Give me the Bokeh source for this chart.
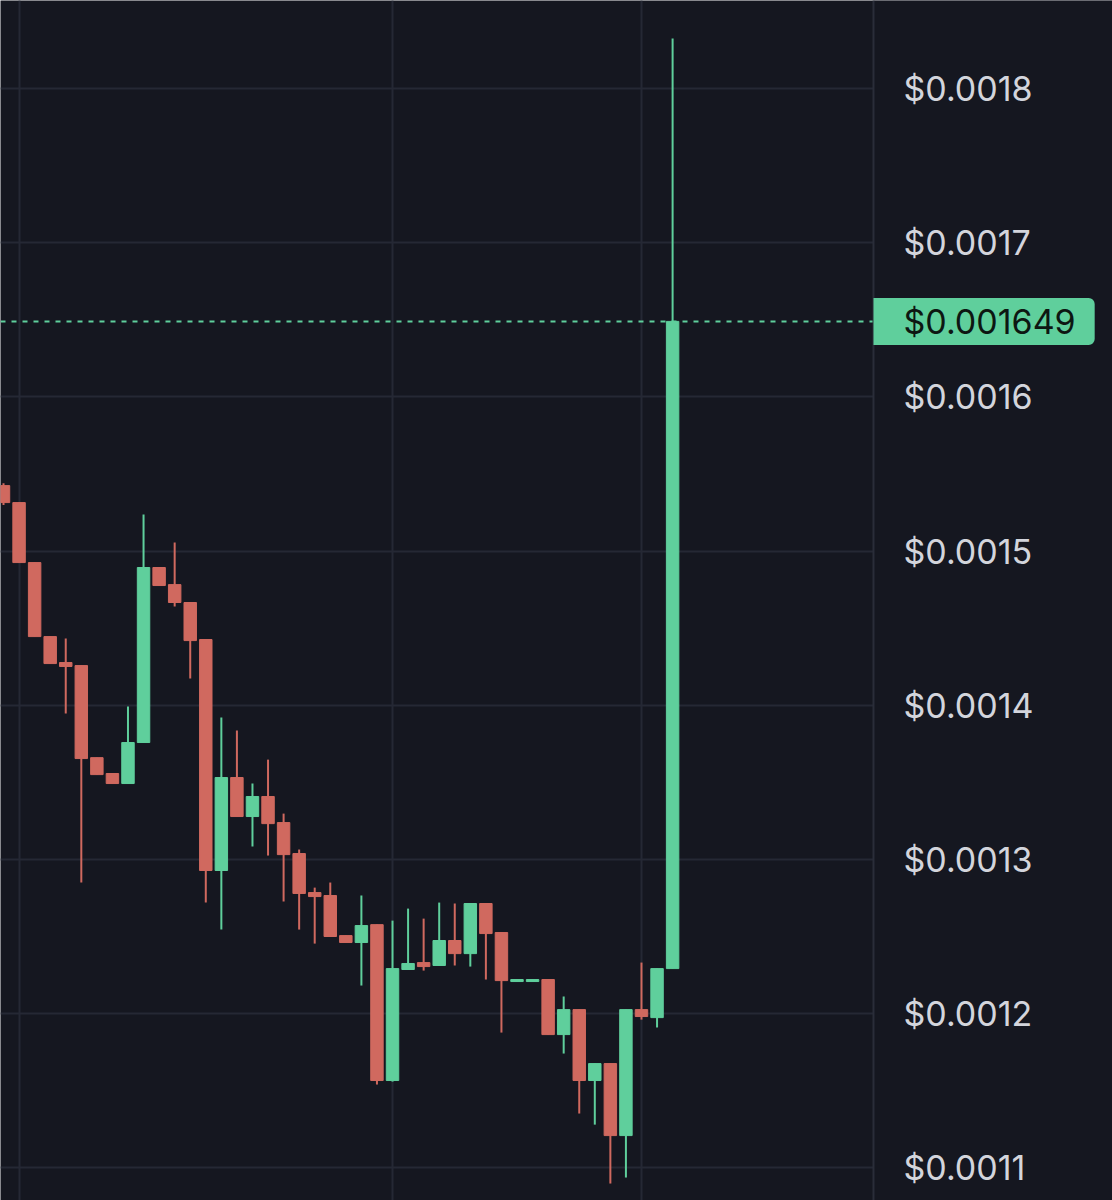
from bokeh.plotting import figure
from bokeh.models import (ColumnDataSource, Span, Label, FixedTicker, NumeralTickFormatter,
                          Range1d, BoxAnnotation)
from bokeh.embed import file_html
from bokeh.resources import INLINE

# OHLC prices (USD), one candle per period
opens = [0.0015425, 0.0015315, 0.0014926, 0.0014446, 0.0014278, 0.0014258, 0.0013661, 0.0013558,
         0.0013493, 0.0013759, 0.0014894, 0.0014783, 0.0014667, 0.0014427, 0.0012929, 0.0013532,
         0.0013279, 0.0013409, 0.0013240, 0.0013039, 0.0012786, 0.0012767, 0.0012507, 0.0012462,
         0.0012578, 0.0011567, 0.0012287, 0.0012332, 0.0012313, 0.0012475, 0.0012390, 0.0012715,
         0.0012527, 0.0012209, 0.0012209, 0.0012222, 0.0011865, 0.0012027, 0.0011567, 0.0011677,
         0.0011210, 0.0012027, 0.0011975, 0.0012293]
highs = [0.0015440, 0.0015315, 0.0014926, 0.0014446, 0.0014433, 0.0014258, 0.0013661, 0.0013558,
         0.0013992, 0.0015237, 0.0014894, 0.0015056, 0.0014667, 0.0014427, 0.0013921, 0.0013837,
         0.0013493, 0.0013648, 0.0013298, 0.0013065, 0.0012818, 0.0012851, 0.0012507, 0.0012767,
         0.0012578, 0.0012604, 0.0012682, 0.0012617, 0.0012721, 0.0012715, 0.0012715, 0.0012715,
         0.0012527, 0.0012222, 0.0012222, 0.0012222, 0.0012112, 0.0012027, 0.0011677, 0.0011677,
         0.0012027, 0.0012332, 0.0012293, 0.0018324]
lows = [0.0015300, 0.0014926, 0.0014446, 0.0014271, 0.0013947, 0.0012851, 0.0013551, 0.0013493,
        0.0013493, 0.0013759, 0.0014777, 0.0014641, 0.0014174, 0.0012721, 0.0012546, 0.0013279,
        0.0013084, 0.0013026, 0.0012728, 0.0012546, 0.0012455, 0.0012501, 0.0012462, 0.0012183,
        0.0011541, 0.0011560, 0.0012287, 0.0012280, 0.0012313, 0.0012313, 0.0012306, 0.0012222,
        0.0011878, 0.0012209, 0.0012209, 0.0011865, 0.0011742, 0.0011353, 0.0011281, 0.0010899,
        0.0010938, 0.0011962, 0.0011911, 0.0012293]
closes = [0.0015315, 0.0014926, 0.0014446, 0.0014271, 0.0014252, 0.0013655, 0.0013551, 0.0013493,
          0.0013759, 0.0014894, 0.0014777, 0.0014667, 0.0014420, 0.0012929, 0.0013532, 0.0013279,
          0.0013409, 0.0013233, 0.0013032, 0.0012780, 0.0012760, 0.0012501, 0.0012462, 0.0012572,
          0.0011567, 0.0012293, 0.0012326, 0.0012306, 0.0012475, 0.0012390, 0.0012715, 0.0012520,
          0.0012215, 0.0012222, 0.0012222, 0.0011865, 0.0012027, 0.0011567, 0.0011677, 0.0011210,
          0.0012027, 0.0011982, 0.0012293, 0.0016490]
price_ticks = [0.0011, 0.0012, 0.0013, 0.0014, 0.0015, 0.0016, 0.0017, 0.0018]
time_ticks = [1, 25, 41]

BG = "#151720"
GRID = "#252834"
BORDER = "#2a2d39"
GREEN = "#5fcf9c"
RED = "#d0695f"
TEXT = "#d3d5dc"

X_START, X_END = -0.193, 71.27   # full canvas width in candle-index units
SCALE_EDGE = 55.91                # left edge of the price scale column

idx = list(range(len(opens)))
colors = [GREEN if c >= o else RED for o, c in zip(opens, closes)]
src = ColumnDataSource(dict(
    x=idx, o=opens, h=highs, l=lows, c=closes,
    top=[max(o, c) for o, c in zip(opens, closes)],
    bottom=[min(o, c) for o, c in zip(opens, closes)],
    color=colors,
))

p = figure(width=1112, height=1200,
           x_range=Range1d(X_START, X_END), y_range=Range1d(0.0010789, 0.0018571),
           x_axis_location=None, y_axis_location="right",
           toolbar_location=None, output_backend="svg",
           min_border=0,
           background_fill_color=BG, border_fill_color=BG, outline_line_color=None)

for g in p.grid:
    g.grid_line_color = GRID
    g.grid_line_width = 2
    g.ticker = FixedTicker(ticks=price_ticks if g.dimension == 1 else time_ticks)

ax = p.yaxis[0]
ax.ticker = FixedTicker(ticks=price_ticks)
ax.formatter = NumeralTickFormatter(format="$0.0000")
ax.axis_line_color = None
ax.major_tick_line_color = None
ax.minor_tick_line_color = None
ax.major_tick_out = 0
ax.major_label_standoff = -209
ax.major_label_text_font = "Inter"
ax.major_label_text_font_size = "34px"
ax.major_label_text_color = TEXT

last = closes[-1]
# current price line (under the scale column cover)
p.add_layout(Span(location=last, dimension="width", line_color=GREEN, line_width=2,
                  line_dash="5 6", level="underlay"))
# price scale column background and its border
p.add_layout(BoxAnnotation(left=SCALE_EDGE, fill_color=BG, fill_alpha=1.0, line_color=None,
                           level="underlay"))
p.add_layout(Span(location=SCALE_EDGE, dimension="height", line_color=BORDER, line_width=2,
                  level="underlay"))

p.segment(x0="x", x1="x", y0="l", y1="h", source=src, line_color="color", line_width=2)
p.vbar(x="x", width=0.8, top="top", bottom="bottom", source=src, fill_color="color",
       line_color="color", line_width=1)

p.add_layout(Label(x=SCALE_EDGE, y=last, text=f"${last:.6f}", text_align="left", text_baseline="middle",
                   text_font="Inter", text_font_size="34px", text_color="#0d1712",
                   background_fill_color=GREEN, background_fill_alpha=1.0,
                   padding=dict(left=30, right=19, top=3, bottom=3),
                   border_radius=dict(top_left=0, top_right=6, bottom_right=6, bottom_left=0)))

open("out.html", "w").write(file_html(p, INLINE))
